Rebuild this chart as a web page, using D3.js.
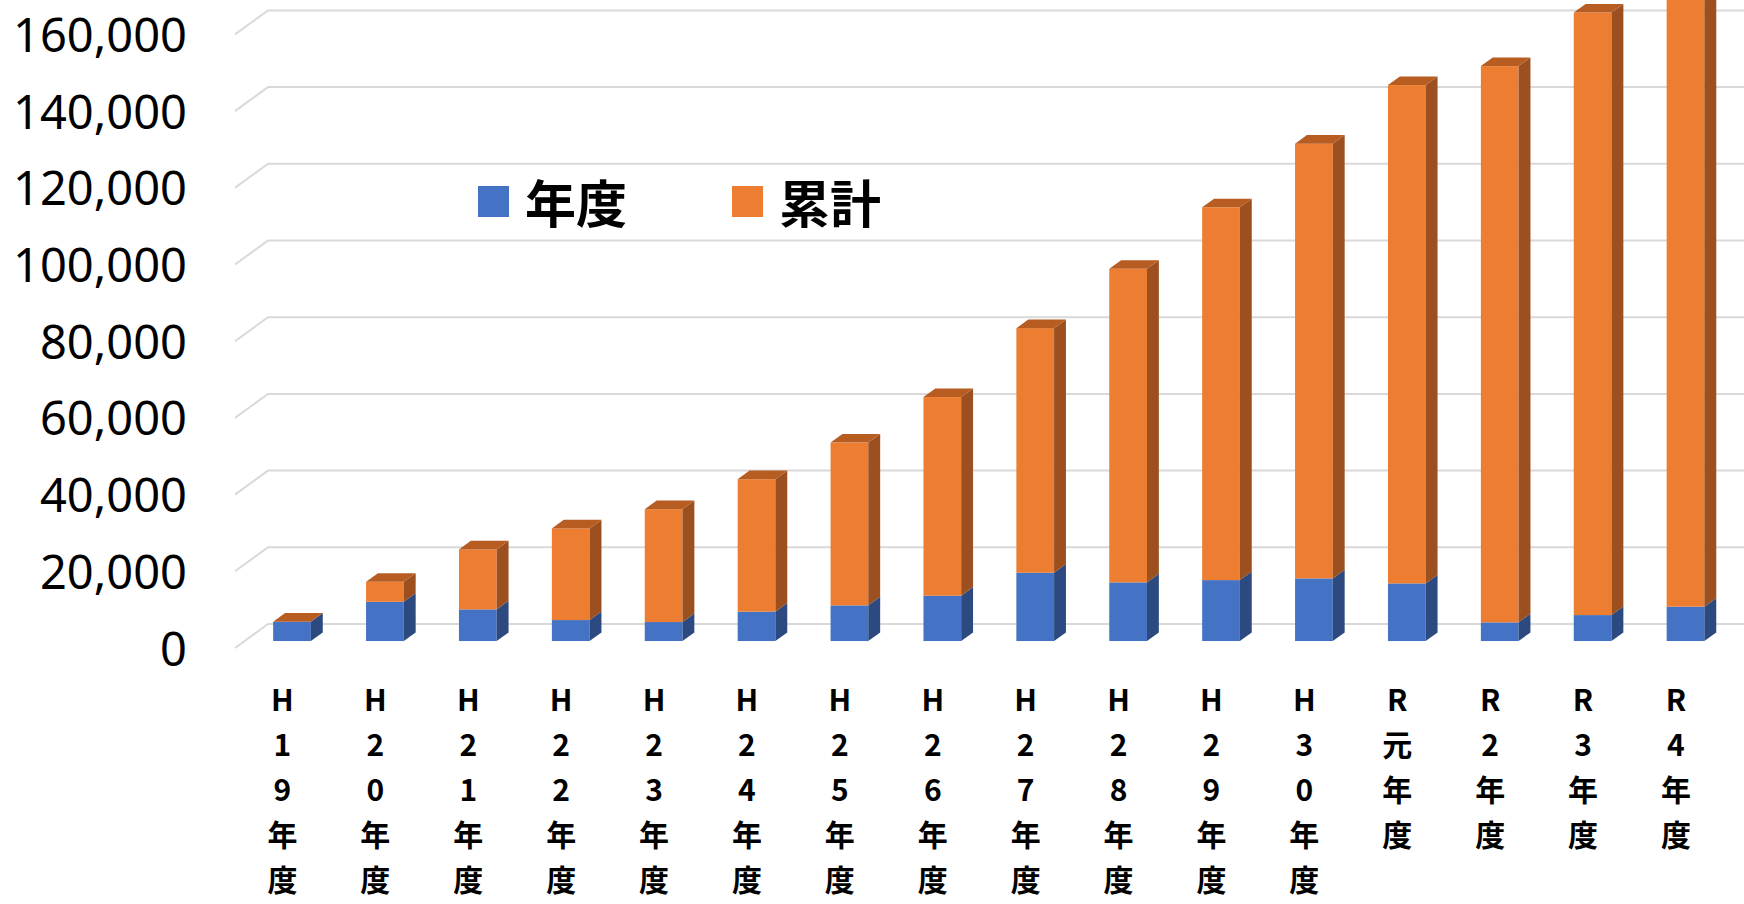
<!DOCTYPE html>
<html><head><meta charset="utf-8">
<script src="https://cdnjs.cloudflare.com/ajax/libs/d3/7.8.5/d3.min.js"></script>
<style>
html,body{margin:0;padding:0;background:#fff;overflow:hidden;}
svg{display:block;}
</style></head>
<body>
<svg id="chart" width="1744" height="904"></svg>
<script>
const categories = ["H19年度","H20年度","H21年度","H22年度","H23年度","H24年度","H25年度","H26年度","H27年度","H28年度","H29年度","H30年度","R元年度","R2年度","R3年度","R4年度"];
const annual =     [5030, 10230, 8250, 5470, 4950, 7660, 9300, 11820, 17810, 15290, 15890, 16330, 15030, 4870, 6770, 8960];
const cumulative = [5030, 15440, 23880, 29350, 34370, 42190, 51740, 63620, 81590, 97050, 113100, 129690, 144970, 149920, 163880, 172840];
const seriesNames = ["年度", "累計"];
const yTicks = [0, 20000, 40000, 60000, 80000, 100000, 120000, 140000, 160000];

const colors = {
  blue: {front:"#4472C4", side:"#2C4A80", top:"#3A63AC"},
  orange: {front:"#ED7D31", side:"#9C501F", top:"#B75D22"}
};

const svg = d3.select("#chart");
const W = 1744, H = 904;

// geometry (oblique 3D)
const floorDX = 33, floorDY = -24;
const barFrontF = 0.29;
const barDepthF = 0.36;

const y = d3.scaleLinear().domain([0,160000]).range([648, 34.4]);
const x = d3.scaleBand().domain(categories).range([236, 1722.4]).paddingInner(0.594).paddingOuter(0.297);

// gridlines (side diagonal + back wall)
const grid = svg.append("g");
yTicks.forEach(t => {
  const yf = y(t);
  grid.append("path")
    .attr("d", `M${235},${yf} L${235+floorDX},${yf+floorDY} L${W+10},${yf+floorDY}`)
    .attr("fill","none").attr("stroke","#d9d9d9").attr("stroke-width",2);
});

// y axis labels via d3 axis
const yAxis = d3.axisLeft(y).tickValues(yTicks).tickSize(0).tickPadding(0).tickFormat(d3.format(","));
const gy = svg.append("g").attr("transform","translate(187,2)").call(yAxis);
gy.select(".domain").remove();
gy.selectAll("text").attr("font-family","'Noto Sans', 'Open Sans', sans-serif").attr("font-size",47).attr("fill","#000");

// bars
const bx0 = barFrontF*floorDX, by0 = barFrontF*floorDY;
const bdx = barDepthF*floorDX, bdy = barDepthF*floorDY;
const bw = x.bandwidth();
const bars = svg.append("g");

function box(g, xl, yTop, yBot, c, drawTop){
  const xr = xl + bw;
  g.append("rect").attr("x",xl).attr("y",yTop).attr("width",bw).attr("height",Math.max(0,yBot-yTop)).attr("fill",c.front);
  g.append("path").attr("d",`M${xr},${yTop} L${xr+bdx},${yTop+bdy} L${xr+bdx},${yBot+bdy} L${xr},${yBot} Z`).attr("fill",c.side);
  if(drawTop){
    g.append("path").attr("d",`M${xl},${yTop} L${xl+bdx},${yTop+bdy} L${xr+bdx},${yTop+bdy} L${xr},${yTop} Z`).attr("fill",c.top);
  }
}

categories.forEach((cat,i) => {
  const g = bars.append("g");
  const xl = x(cat) + bx0;
  const yb = y(0) + by0;
  const ya = y(annual[i]) + by0;
  const yc = y(cumulative[i]) + by0;
  box(g, xl, ya, yb, colors.blue, false);
  box(g, xl, yc, ya, colors.orange, true);
});

// x labels: stacked vertical characters
const xlg = svg.append("g");
categories.forEach(cat => {
  const cx = x(cat) + bw/2;
  const chars = Array.from(cat);
  chars.forEach((ch,j) => {
    xlg.append("text").attr("x",cx).attr("y",698 + j*45)
      .attr("text-anchor","middle").attr("dominant-baseline","central")
      .attr("font-family","'Noto Sans CJK JP', sans-serif").attr("font-weight",700)
      .attr("font-size",30).attr("fill","#000").text(ch);
  });
});

// legend
const legend = svg.append("g");
const legendItems = [{name:seriesNames[0], c:colors.blue.front, x:478},{name:seriesNames[1], c:colors.orange.front, x:732}];
legendItems.forEach(it => {
  legend.append("rect").attr("x",it.x).attr("y",186).attr("width",31).attr("height",31).attr("fill",it.c);
  legend.append("text").attr("x",it.x+47).attr("y",201).attr("dominant-baseline","central")
    .attr("font-family","'Noto Sans CJK JP', sans-serif").attr("font-weight",700)
    .attr("font-size",51).attr("fill","#000").text(it.name);
});
</script>
</body></html>
